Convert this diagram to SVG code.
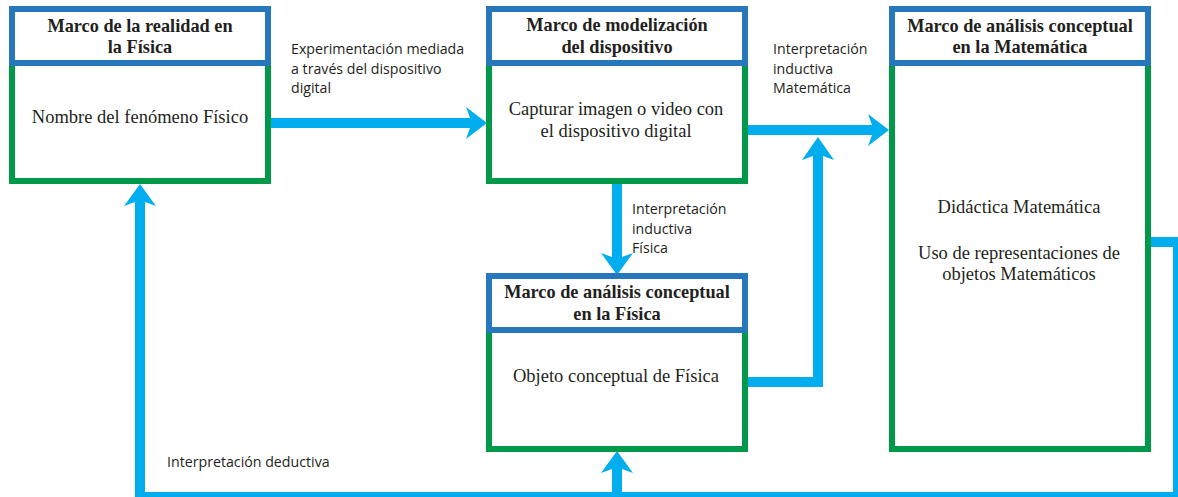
<svg xmlns="http://www.w3.org/2000/svg" width="1178" height="497" viewBox="0 0 1178 497">
<style>
.body{fill:#fff;stroke:#00994a;stroke-width:6}
.head{fill:#fff;stroke:#2677bc;stroke-width:6}
.t{font-family:"Liberation Serif","Times New Roman",serif;fill:#231f20;text-anchor:middle}
.tb{font-size:18.3px;font-weight:bold}
.tr{font-size:18.5px}
.lab{font-family:"Open Sans","Noto Sans",sans-serif;font-size:14.2px;fill:#231f20}
.shaft{fill:none;stroke:#00aeef;stroke-width:10;stroke-linejoin:miter}
.head-a{fill:#00aeef}
</style>
<rect width="1178" height="497" fill="#fff"/>
<g id="connectors">
  <path class="shaft" d="M271 123 H471"/>
  <polygon class="head-a" points="470,118 466,107 487,123 466,139 470,128"/>
  <path class="shaft" d="M748 130 H873"/>
  <polygon class="head-a" points="872,125 868,114 889,130 868,146 872,135"/>
  <path class="shaft" d="M617 184 V258"/>
  <polygon class="head-a" points="612,257 601,253 617,275 633,253 622,257"/>
  <path class="shaft" d="M748 382 H818 V155"/>
  <polygon class="head-a" points="813,156 802,160 818,137 834,160 823,156"/>
  <path class="shaft" d="M1148 242 H1178 V497 H140 V201"/>
  <polygon class="head-a" points="135,202 124,206 140,184 156,206 145,202"/>
  <path class="shaft" d="M617 497 V468"/>
  <polygon class="head-a" points="612,469 601,473 617,451 633,473 622,469"/>
  <text class="lab" x="291" y="54">Experimentación mediada</text>
  <text class="lab" x="291" y="74">a través del dispositivo</text>
  <text class="lab" x="291" y="93">digital</text>
  <text class="lab" x="773" y="54">Interpretación</text>
  <text class="lab" x="773" y="74">inductiva</text>
  <text class="lab" x="773" y="93">Matemática</text>
  <text class="lab" x="632" y="214">Interpretación</text>
  <text class="lab" x="632" y="234">inductiva</text>
  <text class="lab" x="632" y="253">Física</text>
  <text class="lab" x="167" y="467">Interpretación deductiva</text>
</g>
<g id="node-realidad">
  <rect class="body" x="12" y="63" width="256" height="118"/>
  <rect class="head" x="12" y="9" width="256" height="54"/>
  <text class="t tb" x="140" y="32">Marco de la realidad en</text>
  <text class="t tb" x="140" y="53">la Física</text>
  <text class="t tr" x="140" y="123">Nombre del fenómeno Físico</text>
</g>
<g id="node-modelizacion">
  <rect class="body" x="489" y="63" width="256" height="118"/>
  <rect class="head" x="489" y="9" width="256" height="54"/>
  <text class="t tb" x="617" y="31">Marco de modelización</text>
  <text class="t tb" x="617" y="53">del dispositivo</text>
  <text class="t tr" x="616" y="115">Capturar imagen o video con</text>
  <text class="t tr" x="616" y="137">el dispositivo digital</text>
</g>
<g id="node-fisica">
  <rect class="body" x="489" y="330" width="256" height="119"/>
  <rect class="head" x="489" y="276" width="256" height="54"/>
  <text class="t tb" x="617" y="298">Marco de análisis conceptual</text>
  <text class="t tb" x="617" y="320">en la Física</text>
  <text class="t tr" x="616" y="382">Objeto conceptual de Física</text>
</g>
<g id="node-matematica">
  <rect class="body" x="892" y="63" width="256" height="386"/>
  <rect class="head" x="892" y="9" width="256" height="54"/>
  <text class="t tb" x="1020" y="32">Marco de análisis conceptual</text>
  <text class="t tb" x="1020" y="53">en la Matemática</text>
  <text class="t tr" x="1019" y="213">Didáctica Matemática</text>
  <text class="t tr" x="1019" y="259">Uso de representaciones de</text>
  <text class="t tr" x="1019" y="280">objetos Matemáticos</text>
</g>
</svg>
